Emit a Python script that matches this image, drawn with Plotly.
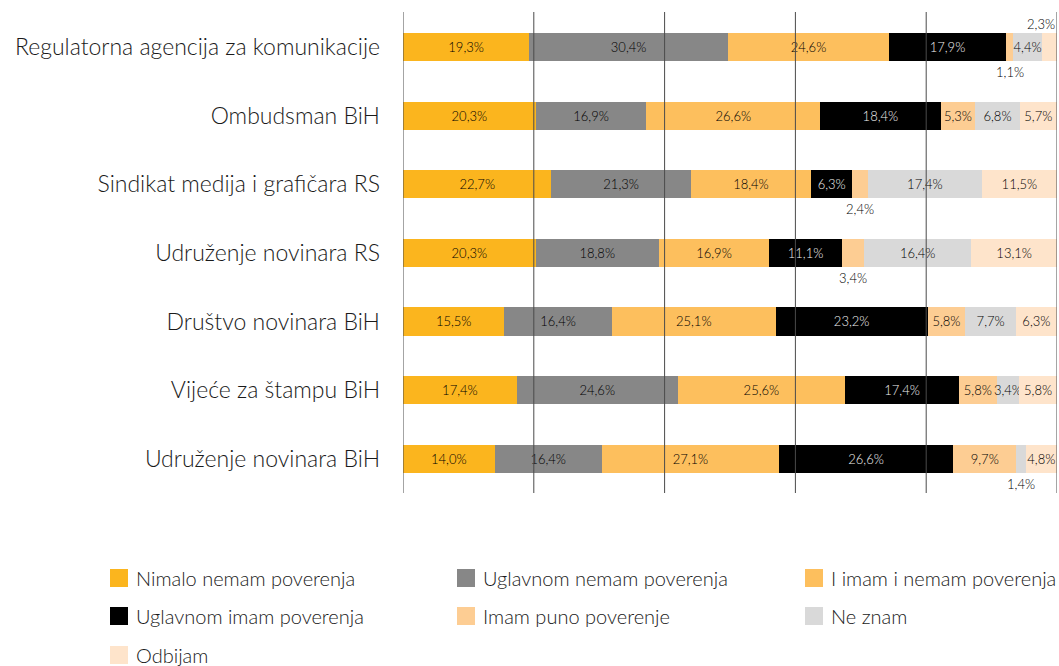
import plotly.graph_objects as go

categories = [
    "Regulatorna agencija za komunikacije",
    "Ombudsman BiH",
    "Sindikat medija i grafičara RS",
    "Udruženje novinara RS",
    "Društvo novinara BiH",
    "Vijeće za štampu BiH",
    "Udruženje novinara BiH",
]

series_names = [
    "Nimalo nemam poverenja",
    "Uglavnom nemam poverenja",
    "I imam i nemam poverenja",
    "Uglavnom imam poverenja",
    "Imam puno poverenje",
    "Ne znam",
    "Odbijam",
]

nimalo = [19.3, 20.3, 22.7, 20.3, 15.5, 17.4, 14.0]
uglavnom_nemam = [30.4, 16.9, 21.3, 18.8, 16.4, 24.6, 16.4]
i_imam_i_nemam = [24.6, 26.6, 18.4, 16.9, 25.1, 25.6, 27.1]
uglavnom_imam = [17.9, 18.4, 6.3, 11.1, 23.2, 17.4, 26.6]
imam_puno = [1.1, 5.3, 2.4, 3.4, 5.8, 5.8, 9.7]
ne_znam = [4.4, 6.8, 17.4, 16.4, 7.7, 3.4, 1.4]
odbijam = [2.3, 5.7, 11.5, 13.1, 6.3, 5.8, 4.8]

series_values = [nimalo, uglavnom_nemam, i_imam_i_nemam, uglavnom_imam,
                 imam_puno, ne_znam, odbijam]

colors = ["#FBB51E", "#878787", "#FDBF5D", "#000000", "#FDCD93", "#D9D9D9", "#FEE4CB"]
text_colors = ["#000000", "#000000", "#000000", "#f0f0f0", "#000000", "#000000", "#000000"]

# labels drawn outside the bar: (category index, series index, position)
outside_labels = [
    (0, 4, "below"),
    (0, 6, "above"),
    (2, 4, "below"),
    (3, 4, "below"),
    (6, 5, "below"),
]

grid_ticks = [0, 20, 40, 60, 80, 100]

FONT = "Lato"
WEIGHT = 300


def fmt(v):
    return f"{v:.1f}".replace(".", ",") + "%"


outside_set = {(c, s) for c, s, _ in outside_labels}

fig = go.Figure()
for si, (name, vals) in enumerate(zip(series_names, series_values)):
    texts = ["" if (ci, si) in outside_set else fmt(v) for ci, v in enumerate(vals)]
    fig.add_trace(go.Bar(
        name=name,
        y=categories,
        x=vals,
        orientation="h",
        marker=dict(color=colors[si], line=dict(width=0)),
        text=texts,
        textposition="inside",
        insidetextanchor="middle",
        textangle=0,
        textfont=dict(family=FONT, size=13, color=text_colors[si], weight=WEIGHT),
        showlegend=False,
        hoverinfo="x+name",
    ))

# outside labels
for ci, si, pos in outside_labels:
    start = sum(series_values[k][ci] for k in range(si))
    mid = start + series_values[si][ci] / 2
    if mid > 97:
        xa, xv = "right", 100
    else:
        xa, xv = "center", mid
    fig.add_annotation(
        x=xv, y=categories[ci], xref="x", yref="y",
        text=fmt(series_values[si][ci]),
        showarrow=False, xanchor=xa,
        yshift=-25 if pos == "below" else 23,
        font=dict(family=FONT, size=13, color="#000000", weight=WEIGHT),
    )

# gridlines above bars
for t in grid_ticks:
    fig.add_shape(type="line", xref="x", yref="paper", x0=t, x1=t, y0=0, y1=1,
                  line=dict(color="#4a4a4a", width=1), layer="above")

# manual legend
W, H = 1059, 666
ML, MR, MT, MB = 403, 2, 12, 173
PW, PH = W - ML - MR, H - MT - MB


def px2x(px):
    return (px - ML) / PW


def px2y(py):
    return (H - MB - py) / PH


col_x = [110, 457, 805]
row_y = [578, 616, 655]
sw = 18
for i, name in enumerate(series_names):
    r, c = divmod(i, 3)
    x0 = col_x[c]
    yc = row_y[r]
    fig.add_shape(type="rect", xref="paper", yref="paper",
                  x0=px2x(x0), x1=px2x(x0 + sw), y0=px2y(yc - sw / 2), y1=px2y(yc + sw / 2),
                  fillcolor=colors[i], line=dict(width=0))
    fig.add_annotation(xref="paper", yref="paper", x=px2x(x0 + 24), y=px2y(yc),
                       text=name, showarrow=False, xanchor="left", yanchor="middle",
                       font=dict(family=FONT, size=20, color="#1a1a1a", weight=WEIGHT))

fig.update_layout(
    width=W, height=H,
    margin=dict(l=ML, r=MR, t=MT, b=MB, pad=0),
    barmode="stack",
    bargap=0.59,
    plot_bgcolor="white",
    paper_bgcolor="white",
    showlegend=False,
    uniformtext=dict(minsize=13, mode="show"),
    font=dict(family=FONT, color="#1a1a1a", weight=WEIGHT),
    xaxis=dict(range=[0, 100], showgrid=False, zeroline=False, showticklabels=False,
               showline=False, fixedrange=True),
    yaxis=dict(categoryorder="array", categoryarray=categories, autorange="reversed",
               showgrid=False, zeroline=False, showline=False, ticks="",
               ticklabelstandoff=22,
               tickfont=dict(family=FONT, size=23, color="#1a1a1a", weight=WEIGHT)),
)

fig.write_html("out.html", config={"displayModeBar": False},
               post_script="document.body.style.margin='0';")
